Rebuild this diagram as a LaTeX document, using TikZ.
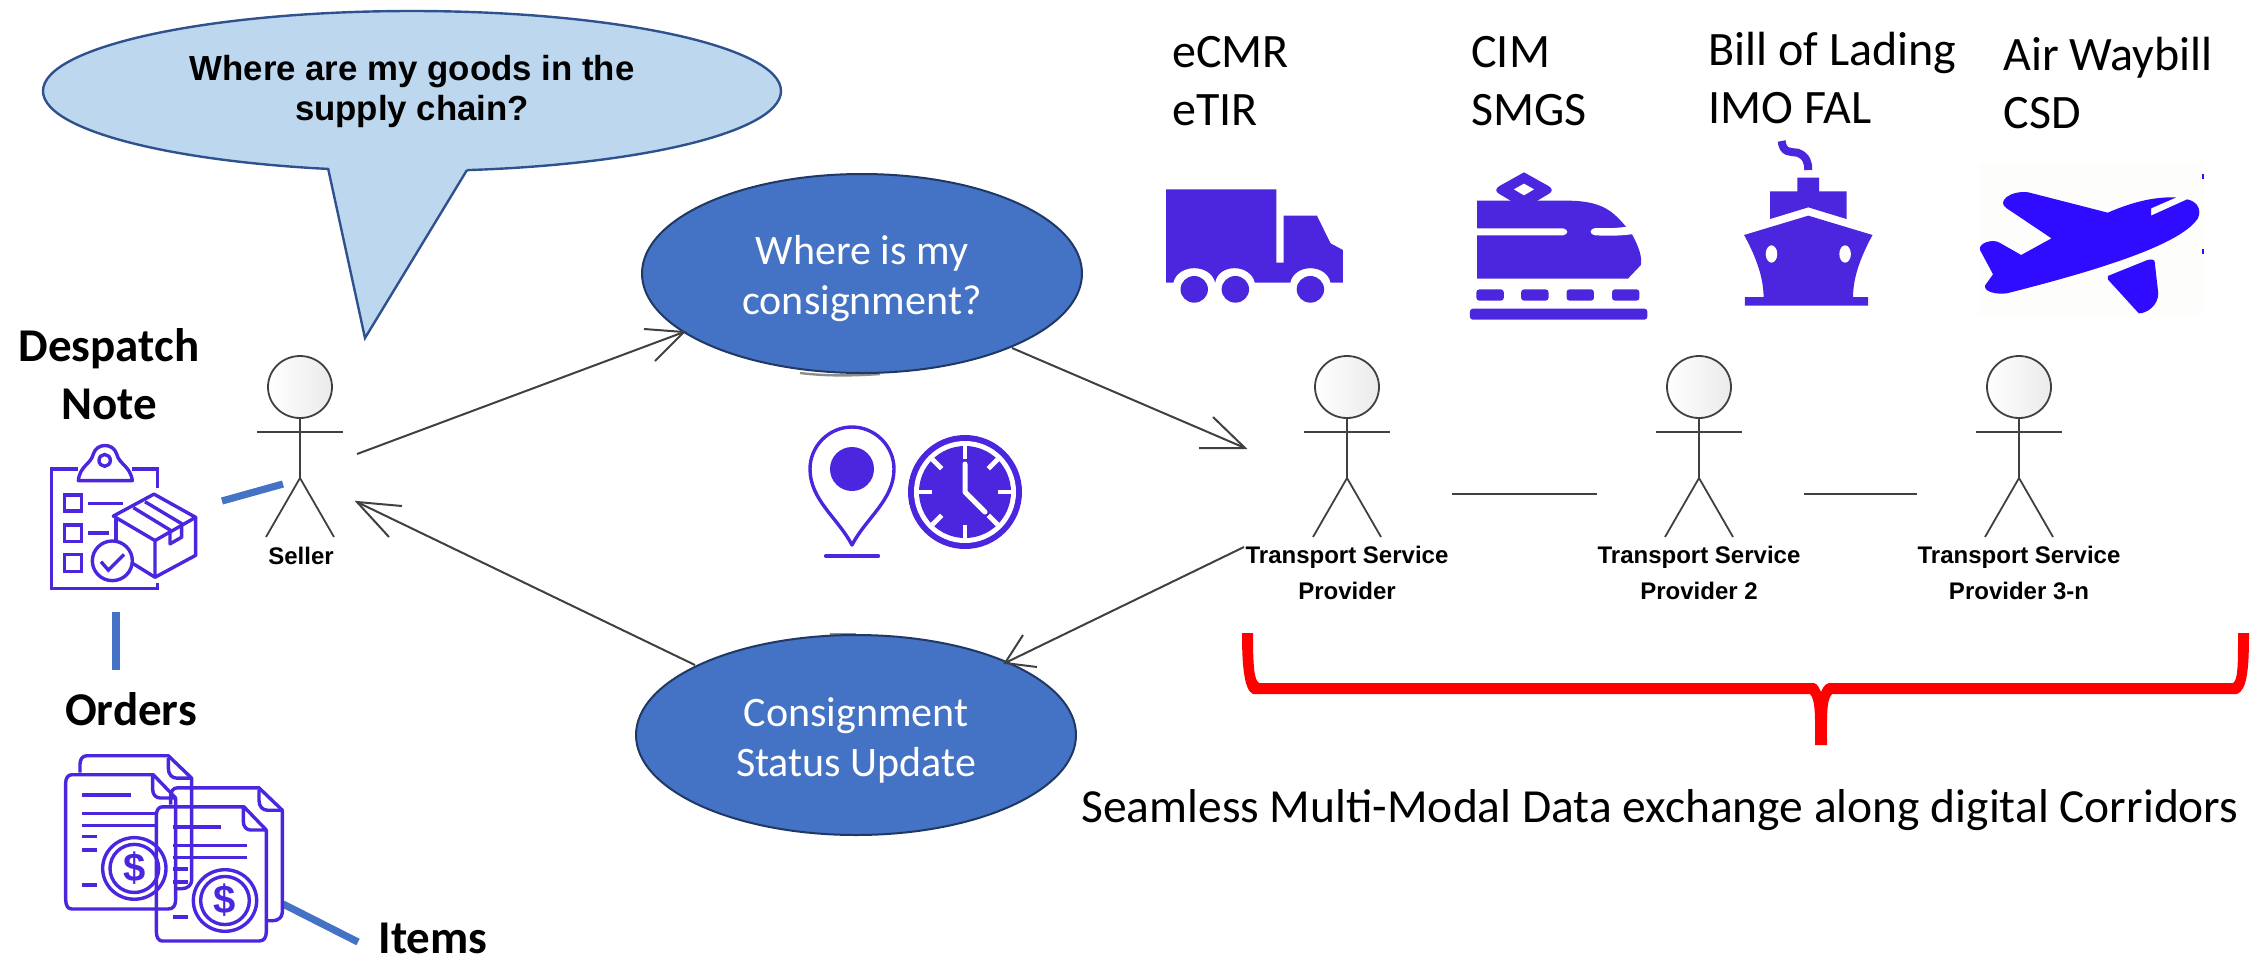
\documentclass[tikz,border=0pt]{standalone}
\usepackage{fontspec}
\setmainfont{Carlito}
\newfontfamily\labfont{Liberation Sans}
\usetikzlibrary{shapes.geometric}
\definecolor{icon}{HTML}{4B26DE}
\definecolor{plane}{HTML}{2F0CFF}
\definecolor{linkblue}{HTML}{4472C4}
\definecolor{ucborder}{HTML}{1F3864}
\definecolor{bubblefill}{HTML}{BDD7EE}
\definecolor{bubbleline}{HTML}{2F528F}
\definecolor{umlline}{HTML}{404040}
\definecolor{planebg}{HTML}{FDFDFB}
\tikzset{
  usecase/.style={ellipse,draw=ucborder,line width=1pt,fill=linkblue,text=white,inner sep=0pt,outer sep=0pt,align=center,font=\fontsize{21}{25}\selectfont},
  umlconn/.style={draw=umlline,line width=1pt},
  bluelink/.style={draw=linkblue,line width=3.6pt},
  actorline/.style={draw=umlline,line width=.9pt},
  modetext/.style={anchor=north west,align=left,inner sep=0pt,font=\fontsize{24}{29}\selectfont},
  boldlabel/.style={align=center,inner sep=0pt,font=\bfseries\fontsize{23.5}{29}\selectfont},
  actorlabel/.style={align=center,inner sep=0pt,font=\labfont\bfseries\fontsize{12}{18}\selectfont},
  iconline/.style={draw=icon,line width=1.7pt},
  iconfill/.style={fill=icon,draw=none},
}
\newcommand{\umlactor}[1]{%
  \shade[left color=white,right color=black!8] (#1,387) ellipse (32 and 31);
  \draw[actorline] (#1,387) ellipse (32 and 31);
  \draw[actorline] (#1,418) -- (#1,478);
  \draw[actorline] (#1-43,432) -- (#1+43,432);
  \draw[actorline] (#1-34,537) -- (#1,478) -- (#1+34,537);
}
\newcommand{\docicon}[3]{%
  \begin{scope}[shift={(#1,#2)}]
    \draw[iconline,line join=round] (240,1120) -- (240,1100) .. controls (240,1088) and (248,1080) .. (260,1080) -- (505,1080) -- (575,1133) -- (575,1375) .. controls (575,1388) and (560,1395) .. (545,1395) -- (525,1395);
    \draw[iconline,line join=round] (505,1085) -- (505,1110) .. controls (505,1124) and (516,1133) .. (530,1133) -- (575,1133);
    \draw[iconline,line join=round] (527,1180) -- (460,1125) -- (215,1125) .. controls (204,1125) and (197,1133) .. (197,1145) -- (197,1420) .. controls (197,1435) and (204,1443) .. (215,1443) -- (505,1443) .. controls (520,1443) and (527,1435) .. (527,1420) -- (527,1180) -- (480,1180) .. controls (468,1180) and (458,1172) .. (458,1160) -- (458,1125);
    \foreach \ya/\xb in {1173/392,1217/470,1245/470,1272/292,1303/292,1386/292}
      \draw[iconline] (247,\ya) -- (\xb,\ya);
    \draw[iconline] (403,1347) ellipse (95 and 73);
    \draw[iconline] (403,1347) ellipse (73 and 57);
    \node[text=icon,inner sep=0pt,font=\labfont\bfseries\fontsize{20}{20}\selectfont] (#3) at (403,1347) {\$};
  \end{scope}
}
\begin{document}
\begin{tikzpicture}[x=.5pt,y=-.5pt]
\useasboundingbox (0,0) rectangle (2261,960);
% speech bubble
\node[ellipse,draw=bubbleline,line width=1.2pt,fill=bubblefill,minimum width=369pt,minimum height=80pt,inner sep=0pt,align=center,font=\labfont\bfseries\fontsize{17.4}{20}\selectfont] (bubble) at (412,91) {Where are my goods in the\\supply chain?};
\coordinate (tailL) at (328,168);
\coordinate (tailT) at (365,338);
\coordinate (tailR) at (467,170);
\fill[bubblefill] (tailL) -- (tailT) -- (tailR) -- (467,160) -- (328,160) -- cycle;
\draw[draw=bubbleline,line width=1.2pt] (tailL) -- (tailT) -- (tailR);
% grey traces of the use case ovals behind the blue ones
\draw[umlline!60,line width=1.2pt] (800,373) .. controls (825,376) and (850,376) .. (880,374);
\draw[umlline!60,line width=1.2pt] (830,634) -- (856,634);
% use cases
\node[usecase,minimum width=220pt,minimum height=99.5pt] (uc1) at (862,273.5) {\rule{0pt}{20pt}Where is my\\consignment?};
\node[usecase,minimum width=220pt,minimum height=100pt] (uc2) at (856,735) {\rule{0pt}{20pt}Consignment\\Status Update};
% actors
\umlactor{300}
\umlactor{1347}
\umlactor{1699}
\umlactor{2019}
\node[actorlabel] (seller) at (301,556) {Seller};
\node[actorlabel,anchor=north] (tsp1) at (1347,546) {Transport Service\\Provider};
\node[actorlabel,anchor=north] (tsp2) at (1699,546) {Transport Service\\Provider 2};
\node[actorlabel,anchor=north] (tsp3) at (2019,546) {Transport Service\\Provider 3-n};
% connectors
\coordinate (a1s) at (357,454); \coordinate (a1t) at (684,332); \coordinate (a1b) at (644,329); \coordinate (a1c) at (655,361);
\draw[umlconn] (a1s) -- (a1t); \draw[umlconn] (a1b) -- (a1t) -- (a1c);
\coordinate (a2s) at (1012,348); \coordinate (a2t) at (1245,448); \coordinate (a2b) at (1213,417); \coordinate (a2c) at (1199,448);
\draw[umlconn] (a2s) -- (a2t); \draw[umlconn] (a2b) -- (a2t) -- (a2c);
\coordinate (a3s) at (1244,547); \coordinate (a3t) at (1005,663); \coordinate (a3b) at (1023,635); \coordinate (a3c) at (1037,667);
\draw[umlconn] (a3s) -- (a3t); \draw[umlconn] (a3b) -- (a3t) -- (a3c);
\coordinate (a4s) at (695,665); \coordinate (a4t) at (357,502); \coordinate (a4b) at (402,506); \coordinate (a4c) at (389,537);
\draw[umlconn] (a4s) -- (a4t); \draw[umlconn] (a4b) -- (a4t) -- (a4c);
\coordinate (l1a) at (1452,494); \coordinate (l1b) at (1597,494);
\coordinate (l2a) at (1804,494); \coordinate (l2b) at (1917,494);
\draw[umlconn,line width=1.3pt] (l1a) -- (l1b);
\draw[umlconn,line width=1.3pt] (l2a) -- (l2b);
% blue links
\coordinate (b1a) at (222,501); \coordinate (b1b) at (283,484);
\coordinate (b2a) at (116,612); \coordinate (b2b) at (116,670);
\coordinate (b3a) at (283,904); \coordinate (b3b) at (358,942);
\draw[bluelink] (b1a) -- (b1b);
\draw[bluelink] (b2a) -- (b2b);
\draw[bluelink] (b3a) -- (b3b);
% left labels
\node[boldlabel,anchor=north] (despatch) at (109,328) {Despatch\\Note};
\node[boldlabel,anchor=base] (orders) at (131,725) {Orders};
\node[boldlabel,anchor=base] (items) at (433,953) {Items};
% clipboard + orders icons, in crop coordinates
\begin{scope}[shift={(0,300)},x=.16667pt,y=-.211pt]
  \draw[iconline] (472,445) -- (472,400) -- (395,400);
  \draw[iconline] (235,400) -- (155,400) -- (155,683) -- (472,683) -- (472,670);
  \draw[iconline,line join=round] (235,428) .. controls (240,392) and (272,390) .. (280,365) .. controls (290,338) and (340,338) .. (350,365) .. controls (358,390) and (390,392) .. (397,428) -- cycle;
  \draw[iconline] (314,380) ellipse (17 and 14);
  \draw[iconline] (193,462) rectangle (245,500);
  \draw[iconline] (193,533) rectangle (245,572);
  \draw[iconline] (193,603) rectangle (245,643);
  \draw[iconline] (263,482) -- (368,482);
  \draw[iconline] (263,552) -- (328,552);
  \draw[iconline,line join=round] (340,512) -- (462,460) -- (587,515) -- (465,570) -- cycle;
  \draw[iconline,line join=round] (465,570) -- (465,657) -- (587,605) -- (587,515);
  \draw[iconline] (465,657) -- (400,625);
  \draw[iconline] (348,520) -- (348,572);
  \draw[iconline,line join=round] (400,492) -- (510,545) -- (510,578) -- (545,562) -- (545,530) -- (435,478);
  \draw[iconline,fill=white] (337,618) ellipse (60 and 47);
  \draw[iconline] (303,620) -- (325,640) -- (372,603);
  \docicon{0}{0}{dollarA}
  \docicon{272}{76}{dollarB}
\end{scope}
% pin and clock
\draw[iconline,line join=round] (852,545) .. controls (838,518) and (810,500) .. (810,469) .. controls (810,446) and (829,427) .. (852,427) .. controls (875,427) and (894,446) .. (894,469) .. controls (894,500) and (866,518) .. (852,545) -- cycle;
\fill[icon] (852,469) circle (22);
\draw[icon,line width=2.2pt,line cap=round] (826,556) -- (878,556);
\fill[icon] (965,492) circle (57);
\fill[white] (965,492) circle (51);
\fill[icon] (965,492) circle (46);
\foreach \ang in {0,45,...,315}
  \draw[white,line width=2.4pt] (965,492) ++(\ang:33) -- ++(\ang:15);
\draw[white,line width=2.5pt,line cap=round,line join=round] (965,464) -- (965,492) -- (985,512);
% transport modes
\node[modetext] (road) at (1172,36) {eCMR\\eTIR};
\node[modetext] (rail) at (1471,36) {CIM\\SMGS};
\node[modetext] (sea) at (1708,32) {Bill of Lading\\IMO FAL};
\node[modetext] (air) at (2003,37) {Air Waybill\\CSD};
\begin{scope}[shift={(1130,150)},x=.3608pt,y=-.16667pt]
  % truck
  \fill[icon] (50,118) -- (203,118) -- (203,338) -- (213,338) -- (213,197) -- (259,197) -- (278,280) -- (295,300) -- (295,398) -- (278,398) .. controls (272,340) and (228,340) .. (222,398) -- (173,398) .. controls (167,340) and (122,340) .. (118,398) .. controls (112,340) and (66,340) .. (60,398) -- (50,398) -- cycle;
  \fill[icon] (89,418) ellipse (19 and 40);
  \fill[icon] (146,418) ellipse (19 and 40);
  \fill[icon] (250,418) ellipse (19 and 40);
  % train
  \fill[icon] (481,152) -- (610,152) .. controls (660,155) and (672,190) .. (695,250) .. controls (705,290) and (710,320) .. (708,345) -- (690,386) -- (481,386) -- cycle;
  \fill[white] (481,235) -- (600,235) .. controls (608,238) and (608,253) .. (600,256) -- (481,256) -- cycle;
  \fill[white] (645,234) .. controls (665,236) and (680,234) .. (700,226) -- (705,250) .. controls (680,258) and (665,258) .. (645,256) .. controls (636,252) and (636,238) .. (645,234) -- cycle;
  \fill[icon] (546,67) -- (580,108) .. controls (586,116) and (586,125) .. (580,132) -- (560,158) -- (532,158) -- (512,132) .. controls (506,125) and (506,116) .. (512,108) -- cycle;
  \fill[white] (546,101) -- (560,118) -- (546,136) -- (532,118) -- cycle;
  \foreach \xa in {480,542,605,668}
    \fill[icon,rounded corners=1.5pt] (\xa,418) rectangle (\xa+38,452);
  \fill[icon,rounded corners=1.5pt] (471,476) rectangle (717,509);
  % ship
  \draw[icon,line width=4pt] (903,-27) .. controls (905,10) and (915,5) .. (925,8) .. controls (938,18) and (940,40) .. (940,60);
  \fill[icon] (925,83) -- (955,83) -- (955,124) -- (993,124) -- (993,207) -- (940,172) -- (887,207) -- (887,124) -- (925,124) -- cycle;
  \fill[icon] (940,197) -- (1029,255) .. controls (1010,330) and (1002,390) .. (1002,441) -- (1023,441) -- (1023,467) -- (852,467) -- (852,441) -- (878,441) .. controls (878,390) and (870,330) .. (851,255) -- cycle;
  \fill[white] (889,312) ellipse (8 and 26);
  \fill[white] (991,312) ellipse (8 and 26);
  % plane
  \fill[planebg] (1177,40) rectangle (1487,495);
  \fill[plane] (1215,175) .. controls (1200,155) and (1220,120) .. (1245,127) -- (1355,188) .. controls (1390,155) and (1420,140) .. (1450,142) -- (1415,175) -- (1415,197) -- (1465,148) .. controls (1480,155) and (1485,180) .. (1480,205) .. controls (1460,270) and (1380,340) .. (1215,430) .. controls (1190,435) and (1180,415) .. (1187,400) -- (1196,373) -- (1178,300) .. controls (1175,280) and (1195,265) .. (1205,278) -- (1235,315) -- (1277,265) -- cycle;
  \fill[plane] (1355,378) -- (1410,330) .. controls (1416,326) and (1420,330) .. (1420,335) -- (1425,430) .. controls (1425,465) and (1410,490) .. (1398,490) -- (1355,388) -- cycle;
  \fill[plane] (1485,72) rectangle (1488,88);
  \fill[plane] (1485,297) rectangle (1488,313);
\end{scope}
% brace
\fill[red] (1242,633) -- (1253,633) .. controls (1253,665) and (1254,680) .. (1259,683) -- (1814,683) .. controls (1818,684) and (1820,690) .. (1821,692) .. controls (1822,690) and (1824,684) .. (1829,683) -- (2233,683) .. controls (2238,680) and (2238,665) .. (2238,633) -- (2249,633) .. controls (2249,670) and (2247,690) .. (2237,694) -- (1832,694) .. controls (1826,700) and (1827,720) .. (1827,745) -- (1815,745) .. controls (1815,720) and (1816,700) .. (1810,694) -- (1253,694) .. controls (1244,690) and (1242,665) .. (1242,633) -- cycle;
\node[inner sep=0pt,anchor=base,font=\fontsize{23.75}{28}\selectfont] (corridor) at (1660,822) {Seamless Multi-Modal Data exchange along digital Corridors};
\end{tikzpicture}
\end{document}
